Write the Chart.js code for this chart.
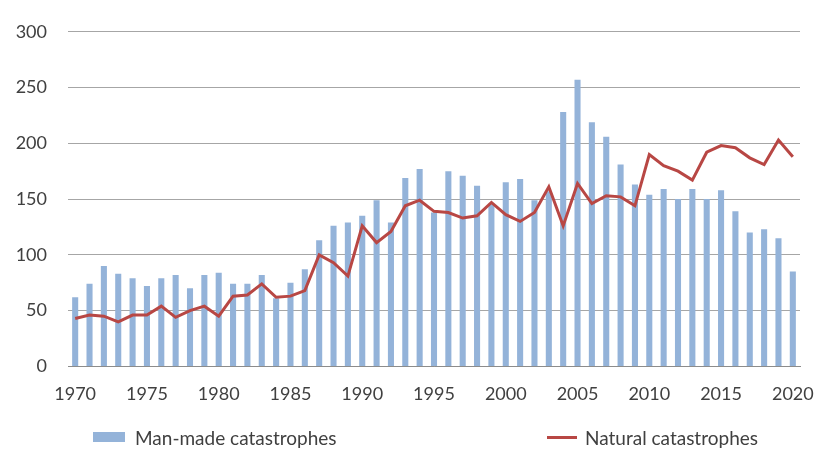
<!DOCTYPE html>
<html>
<head>
<meta charset="utf-8">
<script src="https://cdn.jsdelivr.net/npm/chart.js@4/dist/chart.umd.min.js"></script>
<style>
    html, body { margin: 0; padding: 0; background: #fff; }
    #wrap { position: relative; width: 815px; height: 450px; overflow: hidden; }
    #legend { position: absolute; top: 425px; left: 0; width: 815px; height: 24px;
        font-family: Lato, sans-serif; font-size: 19px; color: #404040; }
    .item { position: absolute; top: 0; display: flex; align-items: center; height: 24px; white-space: nowrap; }
    .box { width: 32px; height: 10px; background: #94b3d9; margin-right: 10px; }
    .line { width: 30px; height: 3px; background: #b84744; margin-right: 8px; }
</style>
</head>
<body>
<div id="wrap">
    <canvas id="chart" width="815" height="450"></canvas>
    <div id="legend">
        <div class="item" style="left:93px"><div class="box"></div>Man-made catastrophes</div>
        <div class="item" style="left:547px"><div class="line"></div>Natural catastrophes</div>
    </div>
</div>
<script>
const years = [];
for (let y = 1970; y <= 2020; y++) years.push(String(y));

const manMade = [
    62, 74, 90, 83, 79, 72, 79, 82, 70, 82,
    84, 74, 74, 82, 61, 75, 87, 113, 126, 129,
    135, 149, 129, 169, 177, 138, 175, 171, 162, 146,
    165, 168, 149, 157, 228, 257, 219, 206, 181, 163,
    154, 159, 150, 159, 150, 158, 139, 120, 123, 115,
    85
];

const natural = [
    43, 46, 45, 40, 46, 46, 54, 44, 50, 54,
    45, 63, 64, 74, 62, 63, 68, 100, 93, 81,
    126, 111, 121, 144, 149, 139, 138, 133, 135, 147,
    136, 130, 138, 161, 126, 164, 146, 153, 152, 144,
    190, 180, 175, 167, 192, 198, 196, 187, 181, 203,
    188
];

const ctx = document.getElementById("chart").getContext("2d");

new Chart(ctx, {
    data: {
        labels: years,
        datasets: [
            {
                type: "line",
                label: "Natural catastrophes",
                data: natural,
                borderColor: "#b84744",
                borderWidth: 3,
                pointRadius: 0,
                tension: 0,
                order: 0,
            },
            {
                type: "bar",
                label: "Man-made catastrophes",
                data: manMade,
                backgroundColor: "#94b3d9",
                categoryPercentage: 0.9,
                barPercentage: 0.47,
                order: 1,
            },
        ],
    },
    options: {
        responsive: false,
        animation: false,
        layout: { padding: { left: 0, right: 15, top: 29, bottom: 28 } },
        scales: {
            x: {
                grid: { display: false, drawTicks: false },
                border: { color: "#8c8c8c", width: 1 },
                afterFit: (scale) => {
                    scale.paddingLeft = 0;
                    scale.paddingRight = 0;
                },
                ticks: {
                    autoSkip: false,
                    maxRotation: 0,
                    padding: 17,
                    color: "#404040",
                    font: { family: "Lato", size: 18 },
                    callback: (v, i) => (Number(years[i]) % 5 === 0 ? years[i] : ""),
                },
            },
            y: {
                min: 0,
                max: 300,
                grid: { color: "#a6a6a6", drawTicks: false },
                border: { display: false },
                afterFit: (scale) => {
                    scale.width = 68;
                },
                ticks: {
                    stepSize: 50,
                    padding: 21,
                    color: "#404040",
                    font: { family: "Lato", size: 18 },
                },
            },
        },
        plugins: {
            legend: { display: false },
            tooltip: { enabled: false },
        },
    },
});
</script>
</body>
</html>
